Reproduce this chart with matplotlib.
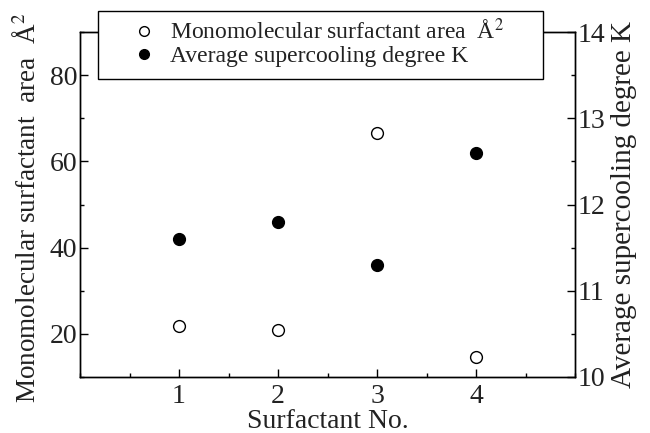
import matplotlib
matplotlib.use("Agg")
import matplotlib.pyplot as plt
from matplotlib.lines import Line2D
from matplotlib.patches import Rectangle
from matplotlib.ticker import MultipleLocator

plt.rcParams["font.family"] = ["Liberation Serif", "DejaVu Serif"]
plt.rcParams["mathtext.fontset"] = "stix"

surfactant_no = [1, 2, 3, 4]
area = [21.9, 20.9, 66.5, 14.7]          # Å^2, open circles, left axis
supercooling = [11.6, 11.8, 11.3, 12.6]  # K, filled circles, right axis

fig = plt.figure(figsize=(6.5, 4.33), dpi=100)
ax = fig.add_axes([80 / 650, 56 / 433, 495 / 650, 345 / 433])
ax2 = ax.twinx()

ax.plot(surfactant_no, area, ls="none", marker="o", ms=8.5,
        mfc="white", mec="black", mew=1.0)
ax2.plot(surfactant_no, supercooling, ls="none", marker="o", ms=8.5,
         mfc="black", mec="black")

ax.set_xlim(0, 5)
ax.set_ylim(10, 90)
ax2.set_ylim(10, 14)
ax.xaxis.set_minor_locator(MultipleLocator(0.5))
ax.set_xticks([1, 2, 3, 4])
ax.yaxis.set_minor_locator(MultipleLocator(10))
ax.set_yticks([20, 40, 60, 80])
ax2.yaxis.set_major_locator(MultipleLocator(1))
ax2.yaxis.set_minor_locator(MultipleLocator(0.5))

ink = "#222222"
for a in (ax, ax2):
    a.tick_params(which="both", direction="in", labelsize=20, width=1.0,
                  labelcolor=ink)
    a.tick_params(which="major", length=6)
    a.tick_params(which="minor", length=3)
    for sp in a.spines.values():
        sp.set_linewidth(1.0)
ax.tick_params(axis="x", pad=5)
ax.tick_params(axis="y", pad=2)
ax2.tick_params(axis="y", pad=2)

ax.set_xlabel("Surfactant No.", fontsize=20, labelpad=0, color=ink)
ax.set_ylabel("Monomolecular surfactant  area  Å$^2$", fontsize=19.5,
              color=ink)
ax.yaxis.set_label_coords(-0.078, 0.49)
ax2.set_ylabel("Average supercooling degree K", fontsize=21,
               labelpad=4, color=ink)

# legend frame drawn separately so the entries can sit well inside it
frame = Rectangle((98 / 650, 1 - 79 / 433), 445 / 650, 68 / 433,
                  transform=fig.transFigure, facecolor="white",
                  edgecolor="black", linewidth=1.0, zorder=5)
fig.add_artist(frame)

handles = [
    Line2D([], [], ls="none", marker="o", ms=7, mfc="white", mec="black"),
    Line2D([], [], ls="none", marker="o", ms=7, mfc="black", mec="black"),
]
labels = ["Monomolecular surfactant area  Å$^2$", "Average supercooling degree K"]
leg = fig.legend(handles, labels, loc="upper left",
                 bbox_to_anchor=(132 / 650, 1 - 19 / 433),
                 fontsize=17, frameon=False, handlelength=1.0,
                 handletextpad=0.6, borderpad=0, labelspacing=0.05,
                 borderaxespad=0)
leg.set_zorder(6)
for t in leg.get_texts():
    t.set_color(ink)

fig.savefig("out.png", dpi=100)
